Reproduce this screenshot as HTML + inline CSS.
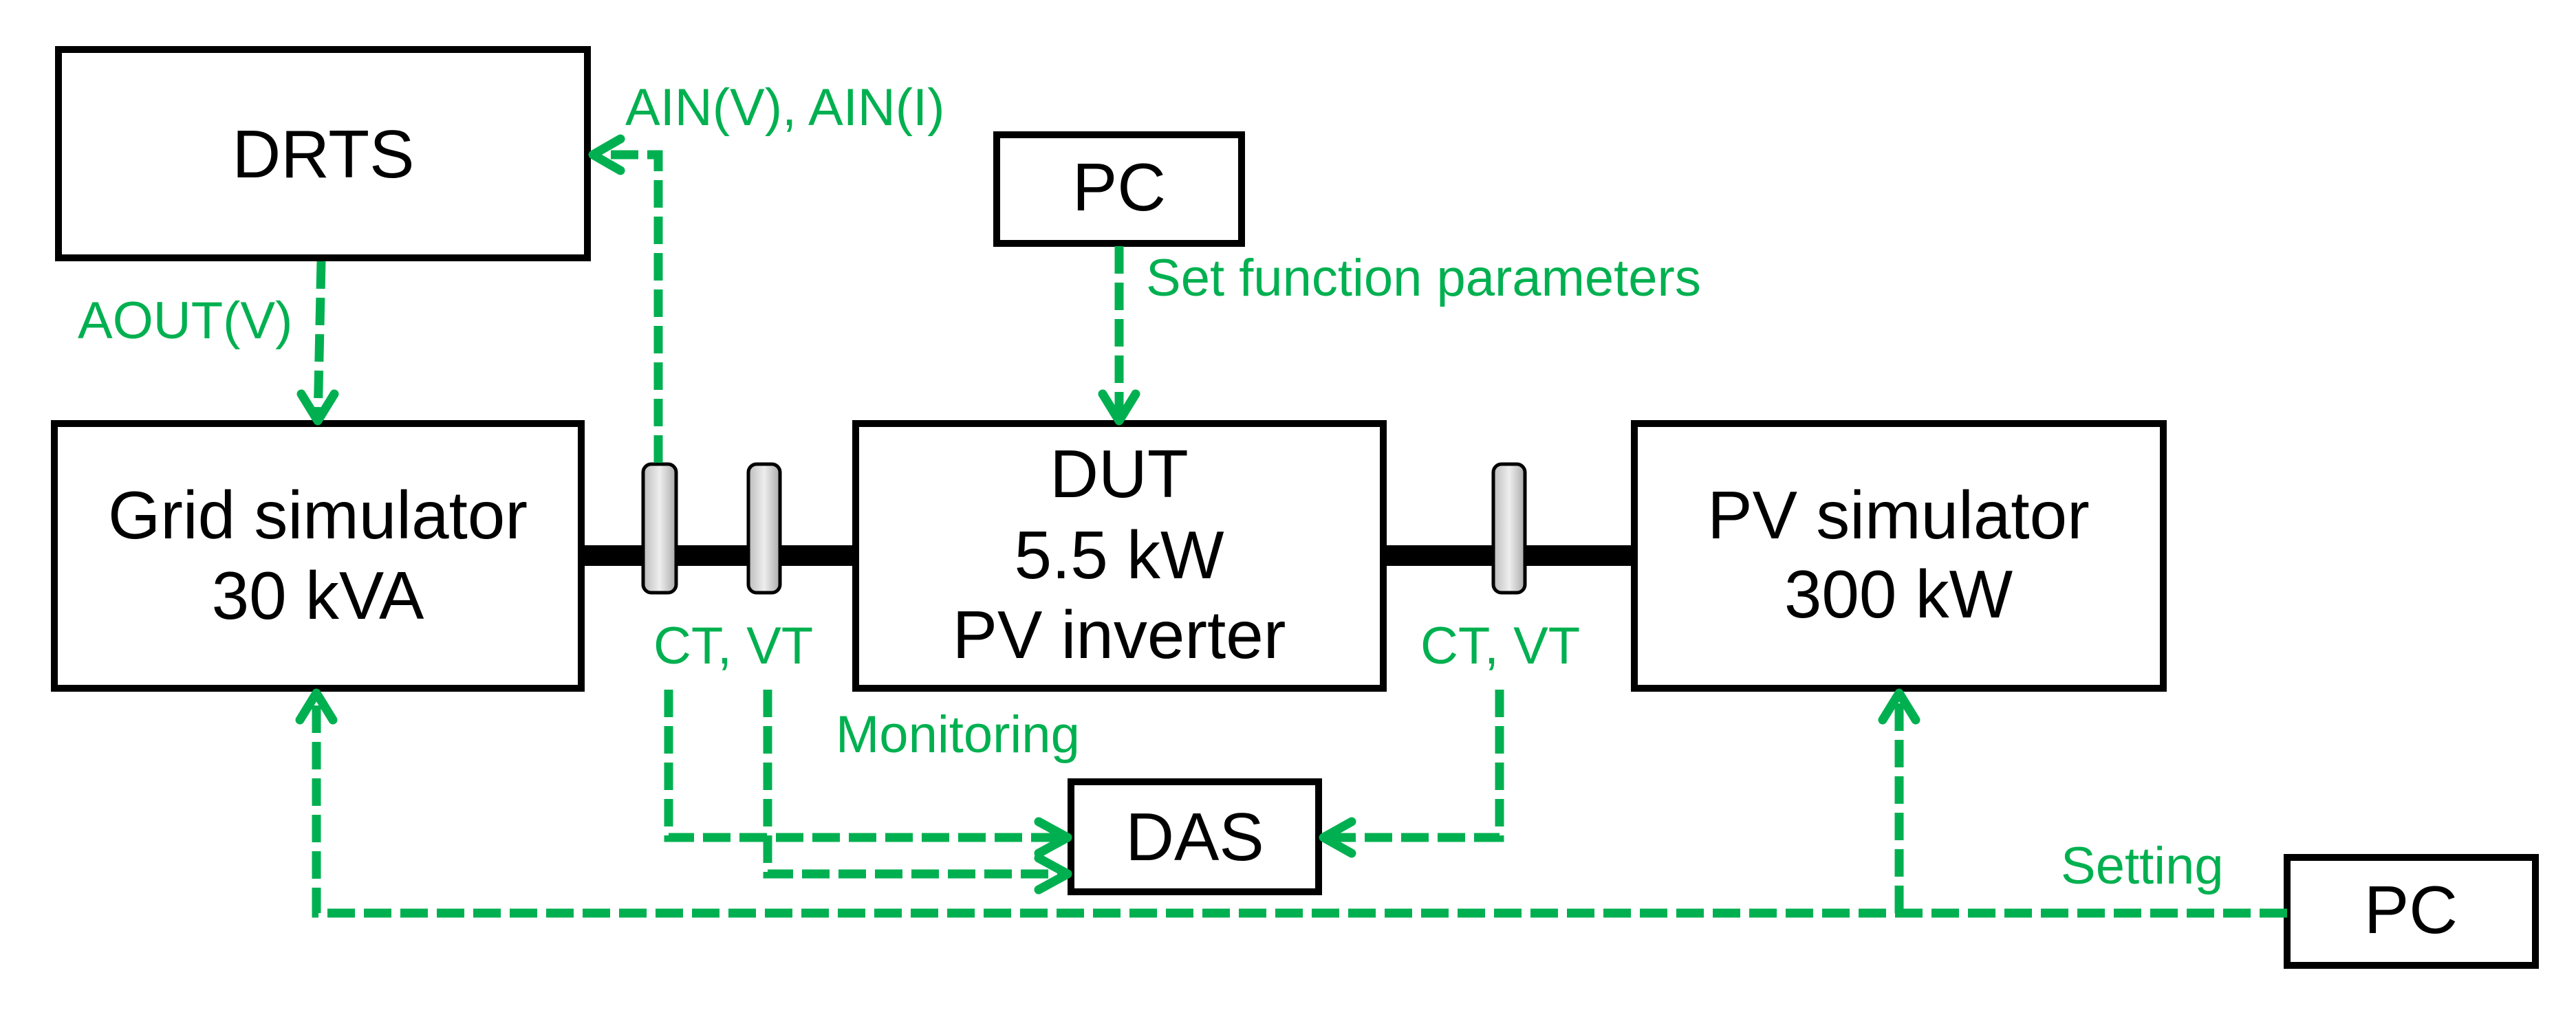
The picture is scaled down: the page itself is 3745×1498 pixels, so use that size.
<!DOCTYPE html>
<html><head><meta charset="utf-8"><style>
html,body{margin:0;padding:0;background:#fff;overflow:hidden}
svg{display:block}
.b{fill:#fff;stroke:#000;stroke-width:10}
.t{font-family:"Liberation Sans",Arial,sans-serif;font-size:98px;fill:#000;text-anchor:middle}
.g{font-family:"Liberation Sans",Arial,sans-serif;font-size:76px;fill:#00B050}
.d{fill:none;stroke:#00B050;stroke-width:13;stroke-dasharray:40 13}
.a{fill:none;stroke:#00B050;stroke-width:13;stroke-linecap:round;stroke-linejoin:round}
</style></head><body>
<svg width="3745" height="1498" viewBox="0 0 3745 1498" xmlns="http://www.w3.org/2000/svg">
<defs><linearGradient id="cg" x1="0" x2="1"><stop offset="0" stop-color="#bbb"/><stop offset="0.5" stop-color="#eee"/><stop offset="1" stop-color="#aaa"/></linearGradient></defs>
<rect x="845" y="793" width="399" height="30" fill="#000"/>
<rect x="2011" y="793" width="365" height="30" fill="#000"/>
<rect class="b" x="85" y="72" width="769" height="303"/>
<rect class="b" x="79" y="616" width="766" height="385"/>
<rect class="b" x="1244" y="616" width="767" height="385"/>
<rect class="b" x="2376" y="616" width="769" height="385"/>
<rect class="b" x="1449" y="196" width="356" height="158"/>
<rect class="b" x="1557" y="1137" width="360" height="160"/>
<rect class="b" x="3325" y="1247" width="361" height="157"/>
<rect x="935" y="675" width="48" height="187" rx="12" fill="url(#cg)" stroke="#000" stroke-width="5"/>
<rect x="1088" y="675" width="46" height="187" rx="12" fill="url(#cg)" stroke="#000" stroke-width="5"/>
<rect x="2171" y="675" width="46" height="187" rx="12" fill="url(#cg)" stroke="#000" stroke-width="5"/>
<text class="t" x="470" y="258">DRTS</text>
<text class="t" x="462" y="783">Grid simulator</text>
<text class="t" x="462" y="900">30 kVA</text>
<text class="t" x="1627" y="723">DUT</text>
<text class="t" x="1627" y="841">5.5 kW</text>
<text class="t" x="1627" y="957">PV inverter</text>
<text class="t" x="2760" y="783">PV simulator</text>
<text class="t" x="2760" y="898">300 kW</text>
<text class="t" x="1627" y="306">PC</text>
<text class="t" x="1737" y="1251">DAS</text>
<text class="t" x="3505" y="1357">PC</text>
<path class="d" d="M467 380 L462 612"/>
<path class="a" d="M438 573 L462 612 L486 573"/>
<path class="d" d="M957 673 L957 225 L862 225"/>
<path class="a" d="M902 202 L862 225 L902 248"/>
<path class="d" d="M1627 358 L1627 612"/>
<path class="a" d="M1603 573 L1627 612 L1651 573"/>
<path class="d" d="M972 1003 L972 1218 L1550 1218"/>
<path class="a" d="M1510 1195 L1552 1218 L1510 1241"/>
<path class="d" d="M1116 1003 L1116 1271 L1550 1271"/>
<path class="a" d="M1510 1248 L1552 1271 L1510 1294"/>
<path class="d" d="M2180 1003 L2180 1218 L1924 1218"/>
<path class="a" d="M1965 1195 L1924 1218 L1965 1241"/>
<path class="d" d="M3325 1328 L460 1328 L460 1008"/>
<path class="a" d="M436 1047 L460 1008 L484 1047"/>
<path class="d" d="M2761 1328 L2761 1008"/>
<path class="a" d="M2737 1047 L2761 1008 L2785 1047"/>
<text class="g" x="909" y="182">AIN(V), AIN(I)</text>
<text class="g" x="113" y="492">AOUT(V)</text>
<text class="g" x="1666" y="430">Set function parameters</text>
<text class="g" x="950" y="965">CT, VT</text>
<text class="g" x="2065" y="965">CT, VT</text>
<text class="g" x="1215" y="1094">Monitoring</text>
<text class="g" x="2996" y="1285">Setting</text>
</svg>
</body></html>
